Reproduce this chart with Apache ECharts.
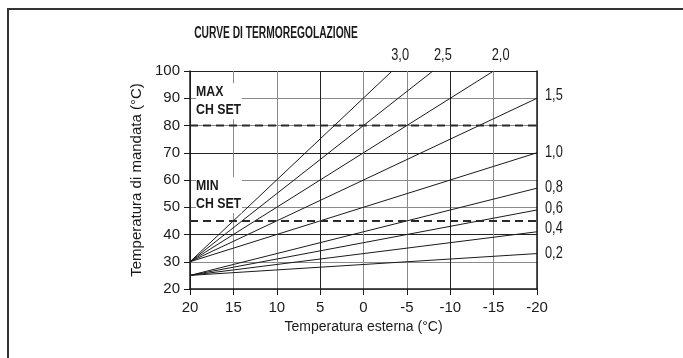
<!DOCTYPE html>
<html>
<head>
<meta charset="utf-8">
<script src="https://cdn.jsdelivr.net/npm/echarts@6/dist/echarts.min.js"></script>
<style>
html, body { margin: 0; padding: 0; background: #fff; }
#c { width: 683px; height: 358px; }
</style>
</head>
<body>
<div id="c"></div>
<script>
// Heating curves: supply temperature vs outdoor temperature
const xMin = -20, xMax = 20, xStep = 5;
const yMin = 20, yMax = 100, yStep = 10;

const curveNames  = ['3,0', '2,5', '2,0', '1,5', '1,0', '0,8', '0,6', '0,4', '0,2'];
const curveStart  = [[20, 30], [20, 30], [20, 30], [20, 30], [20, 30], [20, 25], [20, 25], [20, 25], [20, 25]];
const curveEnd    = [[-3.3, 100], [-8, 100], [-15, 100], [-20, 90], [-20, 70], [-20, 57], [-20, 49], [-20, 41], [-20, 33]];

const maxChSet = 80;
const minChSet = 45;

const titleText = 'CURVE DI TERMOREGOLAZIONE';
const xName = 'Temperatura esterna (°C)';
const yName = 'Temperatura di mandata (°C)';
const maxLabel = ['MAX', 'CH SET'];
const minLabel = ['MIN', 'CH SET'];

// label placement relative to each curve's end point (pixels)
const labelShift = [[8, -15, 'center'], [10, -15, 'center'], [7, -15, 'center'],
                    [8, -3, 'left'], [8, 0, 'left'], [8, -1, 'left'], [8, -1, 'left'], [8, -3, 'left'], [8, 0, 'left']];

const FONT = "'Liberation Sans Narrow', 'Arial Narrow', 'Liberation Sans', Arial, sans-serif";
const INK = '#1a1a1a';
const GRID_LIGHT = '#8a8a8a';
const GRID_DARK = '#222';
const NARROW = 0.8;   // horizontal squeeze for a condensed look on free text

const chart = echarts.init(document.getElementById('c'), null, { renderer: 'canvas' });

const series = curveNames.map((name, i) => ({
  type: 'line',
  name: name,
  data: [curveStart[i], curveEnd[i]],
  symbol: 'none',
  silent: true,
  animation: false,
  lineStyle: { color: INK, width: 1 },
  z: 3
}));

function setLine(value) {
  return {
    type: 'line',
    data: [[xMax, value], [xMin, value]],
    symbol: 'none',
    silent: true,
    animation: false,
    lineStyle: { color: '#2a2a2a', width: 2, type: [8, 5] },
    z: 4
  };
}
series.push(setLine(maxChSet));
series.push(setLine(minChSet));

chart.setOption({
  animation: false,
  grid: { left: 190, right: 146, top: 71, bottom: 69 },
  xAxis: {
    type: 'value',
    min: xMin, max: xMax, interval: xStep,
    inverse: true,
    name: xName,
    nameLocation: 'middle',
    nameGap: 29,
    nameTextStyle: { fontFamily: FONT, fontSize: 14, color: INK },
    axisLine: { onZero: false, lineStyle: { color: INK, width: 1.5 } },
    axisTick: { show: true, length: 6, lineStyle: { color: INK, width: 1 } },
    axisLabel: { fontFamily: FONT, fontSize: 15, color: INK, margin: 11 },
    splitLine: { show: true, lineStyle: { color: [GRID_LIGHT, GRID_LIGHT, GRID_DARK], width: 1 } }
  },
  yAxis: [{
    type: 'value',
    min: yMin, max: yMax, interval: yStep,
    name: yName,
    nameLocation: 'middle',
    nameGap: 40,
    nameTextStyle: { fontFamily: FONT, fontSize: 15, color: INK },
    axisLine: { show: true, onZero: false, lineStyle: { color: INK, width: 1.5 } },
    axisTick: { show: true, length: 6, lineStyle: { color: INK, width: 1 } },
    axisLabel: { fontFamily: FONT, fontSize: 15, color: INK, margin: 10 },
    splitLine: { show: true, lineStyle: { color: [GRID_LIGHT, GRID_LIGHT, GRID_DARK], width: 1 } }
  }, {
    type: 'value',
    position: 'right',
    min: yMin, max: yMax, interval: yStep,
    axisLine: { show: true, onZero: false, lineStyle: { color: INK, width: 1.5 } },
    axisTick: { show: false },
    axisLabel: { show: false },
    splitLine: { show: false }
  }],
  series: series
});

// Annotations anchored to data coordinates
const toPx = (pt) => chart.convertToPixel({ gridIndex: 0 }, pt);
const graphics = [];

// frame along the left and top edges
graphics.push({
  type: 'polyline',
  silent: true,
  shape: { points: [[8, 358], [8, 9], [683, 9]] },
  style: { stroke: '#333', lineWidth: 2, fill: null }
});

graphics.push({
  type: 'text',
  x: 276, y: 34,
  scaleX: 0.64,
  style: { text: titleText, font: "bold 16px " + FONT, fill: INK, align: 'center', verticalAlign: 'middle' }
});

curveNames.forEach((name, i) => {
  const p = toPx(curveEnd[i]);
  const s = labelShift[i];
  graphics.push({
    type: 'text',
    x: p[0] + s[0], y: p[1] + s[1],
    scaleX: NARROW,
    style: { text: name, font: "16px " + FONT, fill: INK, align: s[2], verticalAlign: 'middle' }
  });
});

function setLabel(lines, yTop) {
  const p = toPx([xMax, yTop]);
  graphics.push({
    type: 'text',
    x: p[0] + 6, y: p[1],
    z: 5,
    scaleX: 0.82,
    style: {
      text: lines.join('\n'),
      font: "bold 15px " + FONT,
      lineHeight: 18,
      fill: INK,
      align: 'left',
      verticalAlign: 'top',
      backgroundColor: '#fff',
      padding: [0, 1, 0, 0]
    }
  });
}
setLabel(maxLabel, 95.5);
setLabel(minLabel, 61);

chart.setOption({ graphic: graphics });
</script>
</body>
</html>
